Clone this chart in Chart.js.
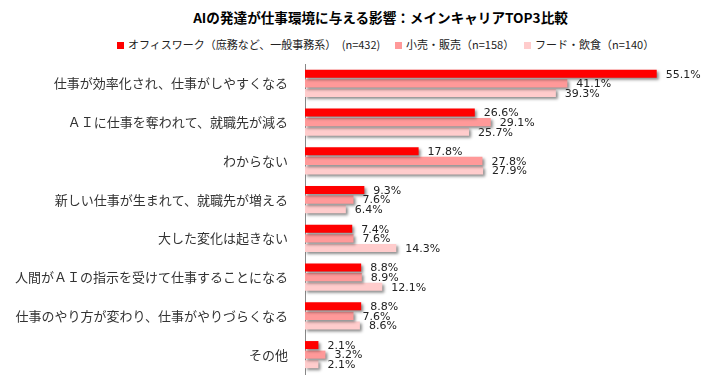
<!DOCTYPE html>
<html lang="ja">
<head>
  <meta charset="UTF-8">
  <title>AIの発達が仕事環境に与える影響</title>
  <script src="https://cdn.jsdelivr.net/npm/chart.js"></script>
  <style>
    html, body { margin: 0; padding: 0; background: #fff; }
    #wrap { position: relative; width: 709px; height: 388px; font-family: "Noto Sans CJK JP", sans-serif; }
    #title { position: absolute; top: 7px; left: 0; width: 761px; text-align: center; font-size: 13.6px; font-weight: bold; color: #000; }
    .leg { position: absolute; top: 36px; font-size: 11px; color: #222; white-space: nowrap; }
    .leg i { display: inline-block; width: 7px; height: 7px; margin-right: 4px; vertical-align: 0px; }
    canvas { position: absolute; left: 0; top: 0; }
  </style>
</head>
<body>
  <div id="wrap">
    <div id="title">AIの発達が仕事環境に与える影響：メインキャリアTOP3比較</div>
    <div id="legend"></div>
    <canvas id="chart" width="709" height="388"></canvas>
  </div>

  <script>
    // 項目と各キャリアの割合（%）
    const categories = [
      '仕事が効率化され、仕事がしやすくなる',
      'ＡＩに仕事を奪われて、就職先が減る',
      'わからない',
      '新しい仕事が生まれて、就職先が増える',
      '大した変化は起きない',
      '人間がＡＩの指示を受けて仕事することになる',
      '仕事のやり方が変わり、仕事がやりづらくなる',
      'その他'
    ];
    const seriesNames = [
      'オフィスワーク（庶務など、一般事務系）　(n=432)',
      '小売・販売（n=158）',
      'フード・飲食（n=140）'
    ];
    const office = [55.1, 26.6, 17.8, 9.3, 7.4, 8.8, 8.8, 2.1];
    const retail = [41.1, 29.1, 27.8, 7.6, 7.6, 8.9, 7.6, 3.2];
    const food   = [39.3, 25.7, 27.9, 6.4, 14.3, 12.1, 8.6, 2.1];
    const colors = ['#FF0000', '#FF9999', '#FFCCCC'];

    // 凡例（HTML）
    const legendX = [117, 395, 524];
    seriesNames.forEach((name, i) => {
      const el = document.createElement('div');
      el.className = 'leg';
      el.style.left = legendX[i] + 'px';
      el.innerHTML = '<i style="background:' + colors[i] + '"></i>' + name;
      document.getElementById('legend').appendChild(el);
    });

    // バーの影
    const shadowPlugin = {
      id: 'barShadow',
      beforeDatasetsDraw(chart) {
        const ctx = chart.ctx;
        ctx.save();
        ctx.shadowColor = 'rgba(0,0,0,0.45)';
        ctx.shadowOffsetX = 2;
        ctx.shadowOffsetY = 2;
        ctx.shadowBlur = 3;
      },
      afterDatasetsDraw(chart) {
        chart.ctx.restore();
      }
    };

    // 値ラベル
    const valueLabels = {
      id: 'valueLabels',
      afterDatasetsDraw(chart) {
        const ctx = chart.ctx;
        ctx.save();
        ctx.font = '11px "DejaVu Sans"';
        ctx.fillStyle = '#222';
        ctx.textAlign = 'left';
        ctx.textBaseline = 'middle';
        chart.data.datasets.forEach((ds, i) => {
          chart.getDatasetMeta(i).data.forEach((bar, j) => {
            ctx.fillText(ds.data[j].toFixed(1) + '%', bar.x + 9, bar.y + 1);
          });
        });
        ctx.restore();
      }
    };

    new Chart(document.getElementById('chart'), {
      type: 'bar',
      data: {
        labels: categories,
        datasets: [office, retail, food].map((d, i) => ({
          label: seriesNames[i],
          data: d,
          backgroundColor: colors[i],
          barPercentage: 0.84,
          categoryPercentage: 0.74
        }))
      },
      options: {
        indexAxis: 'y',
        responsive: false,
        animation: false,
        layout: { padding: { left: 0, right: 21, top: 64, bottom: 14 } },
        scales: {
          x: { display: false, min: 0, max: 60 },
          y: {
            afterFit(scale) {
              scale.width = 305;
              scale.paddingTop = 0;
              scale.paddingBottom = 0;
            },
            grid: { display: false, drawTicks: false },
            border: { display: true, color: '#888', width: 1 },
            ticks: {
              padding: 17,
              color: '#333',
              font: { family: '"Noto Sans CJK JP"', size: 13 }
            }
          }
        },
        plugins: {
          legend: { display: false },
          tooltip: { enabled: false }
        }
      },
      plugins: [shadowPlugin, valueLabels]
    });
  </script>
</body>
</html>
